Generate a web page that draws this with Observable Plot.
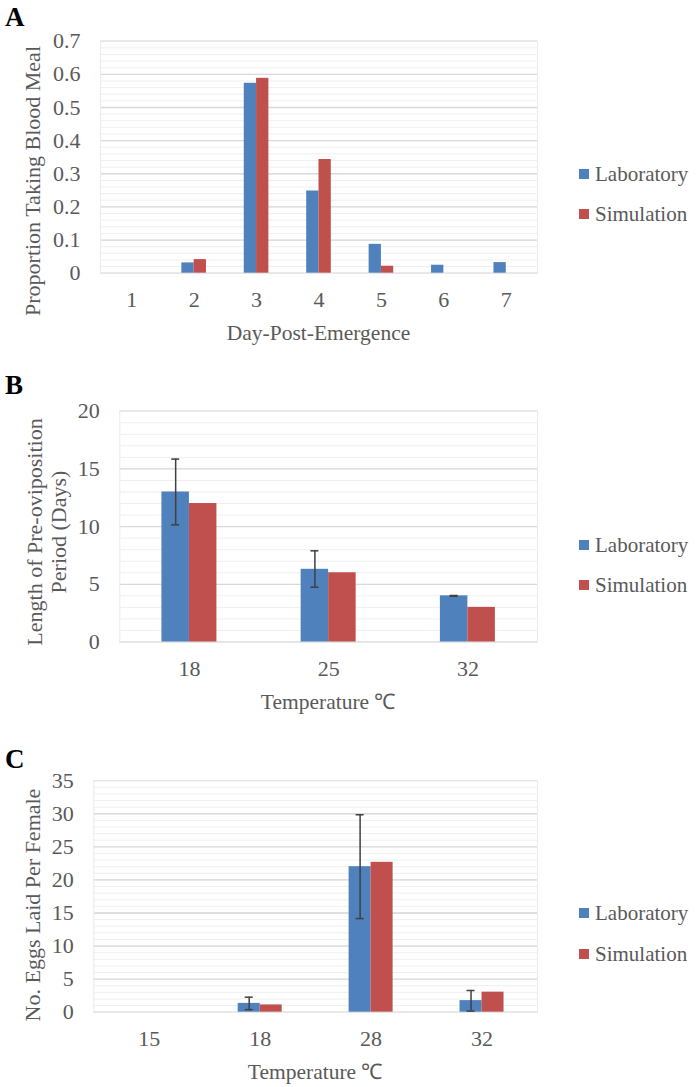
<!DOCTYPE html>
<html><head><meta charset="utf-8">
<script src="https://cdn.jsdelivr.net/npm/d3@7"></script>
<script src="https://cdn.jsdelivr.net/npm/@observablehq/plot@0.6"></script>
<style>
html,body{margin:0;padding:0;background:#fff;}
body{width:696px;height:1087px;position:relative;overflow:hidden;font-family:"Liberation Serif",serif;}
.abs{position:absolute;font-family:"Liberation Serif",serif;}
.letter{font-weight:bold;font-size:27px;color:#000;line-height:27px;}
.xt{font-size:21.5px;color:#595959;transform:translate(-50%,-50%);white-space:nowrap;line-height:24px;}
.yt{font-size:22px;color:#595959;white-space:nowrap;transform:translate(-50%,-50%) rotate(-90deg);text-align:center;line-height:24px;}
.leg{font-size:21px;color:#595959;line-height:22px;white-space:nowrap;}
.sw{width:10px;height:10px;}
svg text, svg g{font-family:"Liberation Serif",serif !important;}
</style></head><body>
<script>
// ---------- data ----------
const seriesNames = ["Laboratory", "Simulation"];
const seriesColors = ["#4F81BD", "#C0504D"];

// Panel A
const dayCats = ["1", "2", "3", "4", "5", "6", "7"];
const dayLab = [0, 0.031, 0.573, 0.248, 0.087, 0.024, 0.032];
const daySim = [0, 0.041, 0.588, 0.343, 0.021, 0, 0];
const aMajorTicks = [0, 0.1, 0.2, 0.3, 0.4, 0.5, 0.6, 0.7];

// Panel B
const tempB = ["18", "25", "32"];
const preLab = [13.0, 6.3, 4.0];
const preLabLo = [10.15, 4.75, 3.97];
const preLabHi = [15.85, 7.9, 4.03];
const preSim = [12, 6, 3];
const bMajorTicks = [0, 5, 10, 15, 20];

// Panel C
const tempC = ["15", "18", "28", "32"];
const eggLab = [0, 1.33, 22.0, 1.75];
const eggLabLo = [null, 0.38, 14.15, 0.17];
const eggLabHi = [null, 2.27, 29.85, 3.28];
const eggSim = [0, 1.1, 22.66, 3.03];
const cMajorTicks = [0, 5, 10, 15, 20, 25, 30, 35];

// ---------- helpers ----------
function minorTicks(max, step) {
  const n = Math.round(max / step);
  return d3.range(n + 1).map(i => +(i * step).toFixed(6));
}

function addDiv(cls, html, left, top, extraStyle) {
  const d = document.createElement("div");
  d.className = "abs " + cls;
  d.innerHTML = html;
  d.style.left = left + "px";
  d.style.top = top + "px";
  if (extraStyle) Object.assign(d.style, extraStyle);
  document.body.appendChild(d);
  return d;
}

function panel(cfg) {
  const {svgTop, cats, lab, sim, lo, hi, yMax, major, minorStep, fl, fr, ft, fb, barW} = cfg;
  const W = fr + 20;
  const H = fb - svgTop + 42;
  const step = (fr - fl) / cats.length;
  const rows = cats.map((c, i) => ({cat: c, lab: lab[i], sim: sim[i]}));
  const errRows = lo ? cats.map((c, i) => ({cat: c, lo: lo[i], hi: hi[i]})).filter(d => d.lo != null) : [];
  const plot = Plot.plot({
    width: W,
    height: H,
    marginLeft: fl,
    marginRight: W - fr,
    marginTop: ft - svgTop,
    marginBottom: H - (fb - svgTop),
    style: {fontFamily: "Liberation Serif, serif", fontSize: "22px", color: "#595959", background: "transparent", overflow: "visible"},
    x: {type: "band", domain: cats, padding: 0, round: false, tickSize: 0, tickPadding: 18, label: null},
    y: {domain: [0, yMax], ticks: major, tickSize: 0, tickPadding: 20, label: null, tickFormat: d => String(d)},
    marks: [
      Plot.ruleY(minorTicks(yMax, minorStep), {stroke: "#EFEFEF", strokeWidth: 1}),
      Plot.ruleY(major, {stroke: "#D9D9D9", strokeWidth: 1.3}),
      Plot.frame({stroke: "#EBEBEB", strokeWidth: 1}),
      Plot.barY(rows, {x: "cat", y: "lab", fill: seriesColors[0], insetLeft: step / 2 - barW, insetRight: step / 2}),
      Plot.barY(rows, {x: "cat", y: "sim", fill: seriesColors[1], insetLeft: step / 2, insetRight: step / 2 - barW}),
      Plot.ruleX(errRows, {x: "cat", y1: "lo", y2: "hi", dx: -barW / 2, stroke: "#404040", strokeWidth: 1.5}),
      Plot.tickY(errRows, {x: "cat", y: "hi", dx: -barW / 2, insetLeft: step / 2 - 4, insetRight: step / 2 - 4, stroke: "#404040", strokeWidth: 1.5}),
      Plot.tickY(errRows, {x: "cat", y: "lo", dx: -barW / 2, insetLeft: step / 2 - 4, insetRight: step / 2 - 4, stroke: "#404040", strokeWidth: 1.5})
    ]
  });
  plot.style.position = "absolute";
  plot.style.left = "0px";
  plot.style.top = svgTop + "px";
  document.body.appendChild(plot);

  // panel letter
  addDiv("letter", cfg.letter, 5, cfg.letterY - 13);
  // x title
  addDiv("xt", cfg.xTitle, (fl + fr) / 2, fb + 60);
  // y title
  addDiv("yt", cfg.yTitle, cfg.yTitleX, cfg.yTitleY);
  // legend
  seriesNames.forEach((name, i) => {
    const cy = cfg.legendY[i];
    addDiv("sw", "", 579, cy - 5, {background: seriesColors[i]});
    addDiv("leg", name, 595, cy - 11);
  });
}

panel({
  letter: "A", letterY: 17,
  svgTop: 0, cats: dayCats, lab: dayLab, sim: daySim,
  yMax: 0.7, major: aMajorTicks, minorStep: 0.02,
  fl: 100, fr: 537, ft: 40.7, fb: 272.7, barW: 12.3,
  xTitle: "Day-Post-Emergence",
  yTitle: "Proportion Taking Blood Meal", yTitleX: 33, yTitleY: 181,
  legendY: [174, 214]
});

panel({
  letter: "B", letterY: 385,
  svgTop: 370, cats: tempB, lab: preLab, sim: preSim, lo: preLabLo, hi: preLabHi,
  yMax: 20, major: bMajorTicks, minorStep: 1,
  fl: 119.3, fr: 537, ft: 410.7, fb: 641.5, barW: 27.5,
  xTitle: "Temperature ℃",
  yTitle: "Length of Pre-oviposition<br>Period (Days)", yTitleX: 47, yTitleY: 532,
  legendY: [545, 585]
});

panel({
  letter: "C", letterY: 759,
  svgTop: 740, cats: tempC, lab: eggLab, sim: eggSim, lo: eggLabLo, hi: eggLabHi,
  yMax: 35, major: cMajorTicks, minorStep: 1,
  fl: 93.3, fr: 537, ft: 780.2, fb: 1011.7, barW: 22,
  xTitle: "Temperature ℃",
  yTitle: "No. Eggs Laid Per Female", yTitleX: 33, yTitleY: 905,
  legendY: [913, 954]
});
</script>
</body></html>
